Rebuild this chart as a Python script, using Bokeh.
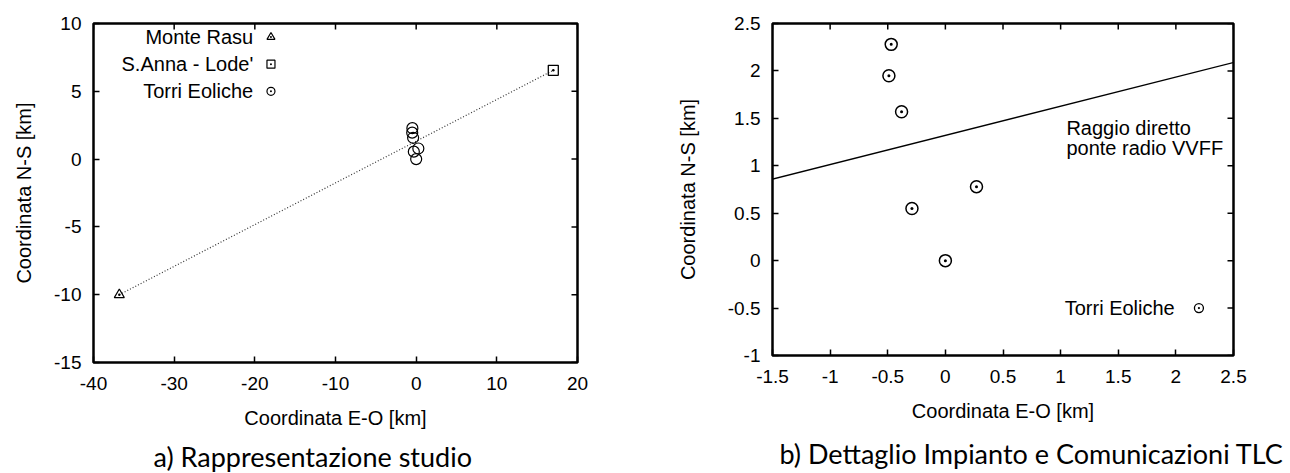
from bokeh.plotting import figure
from bokeh.models import Range1d, FixedTicker, Label, Title
from bokeh.layouts import row
from bokeh.embed import file_html
from bokeh.resources import INLINE
from bokeh.core.properties import value

# ---------------- data ----------------
monte_rasu_x = [-36.8]
monte_rasu_y = [-10.0]
santa_anna_x = [17.0]
santa_anna_y = [6.55]
torri_x = [-0.47, -0.49, -0.38, 0.27, -0.29, 0.0]
torri_y = [2.28, 1.95, 1.57, 0.78, 0.55, 0.0]

legend_labels_a = ["Monte Rasu", "S.Anna - Lode'", "Torri Eoliche"]
legend_labels_b = ["Torri Eoliche"]
annotation_b = ["Raggio diretto", "ponte radio VVFF"]

x_ticks_a = [-40, -30, -20, -10, 0, 10, 20]
x_tick_labels_a = ["-40", "-30", "-20", "-10", "0", "10", "20"]
y_ticks_a = [-15, -10, -5, 0, 5, 10]
y_tick_labels_a = ["-15", "-10", "-5", "0", "5", "10"]
x_ticks_b = [-1.5, -1, -0.5, 0, 0.5, 1, 1.5, 2, 2.5]
x_tick_labels_b = ["-1.5", "-1", "-0.5", "0", "0.5", "1", "1.5", "2", "2.5"]
y_ticks_b = [-1, -0.5, 0, 0.5, 1, 1.5, 2, 2.5]
y_tick_labels_b = ["-1", "-0.5", "0", "0.5", "1", "1.5", "2", "2.5"]

x_title = "Coordinata E-O [km]"
y_title = "Coordinata N-S [km]"
caption_a = "a) Rappresentazione studio"
caption_b = "b) Dettaglio Impianto e Comunicazioni TLC"

link_x = [monte_rasu_x[0], santa_anna_x[0]]
link_y = [monte_rasu_y[0], santa_anna_y[0]]

FONT = "Liberation Sans"
CAP_FONT = "Lato"
TICK_LEN = 6


def style_axes(p, xr, yr, fw, fh, xt, yt, xlab, ylab, ylab_standoff=16):
    p.xaxis.ticker = FixedTicker(ticks=xt)
    p.yaxis.ticker = FixedTicker(ticks=yt)
    p.xaxis.major_label_overrides = {t: s for t, s in zip(xt, xlab)}
    p.yaxis.major_label_overrides = {t: s for t, s in zip(yt, ylab)}
    for ax in (p.xaxis[0], p.yaxis[0]):
        ax.axis_line_color = None
        ax.major_tick_in = TICK_LEN
        ax.major_tick_out = 0
        ax.major_tick_line_width = 1.5
        ax.major_tick_line_color = "black"
        ax.minor_tick_line_color = None
        ax.major_label_text_font = FONT
        ax.major_label_text_font_size = "19px"
        ax.major_label_text_color = "black"
        ax.axis_label_text_font = FONT
        ax.axis_label_text_font_size = "20px"
        ax.axis_label_text_font_style = "normal"
        ax.axis_label_text_color = "black"
    p.xaxis.axis_label = x_title
    p.yaxis.axis_label = y_title
    p.xaxis.major_label_standoff = 14
    p.xaxis.axis_label_standoff = 14
    p.yaxis.major_label_standoff = 12
    p.yaxis.axis_label_standoff = ylab_standoff
    # mirrored inward ticks on top and right edges
    dy = TICK_LEN * (yr[1] - yr[0]) / fh
    dx = TICK_LEN * (xr[1] - xr[0]) / fw
    p.segment(x0=xt, x1=xt, y0=[yr[1]] * len(xt), y1=[yr[1] - dy] * len(xt),
              line_color="black", line_width=1.5)
    p.segment(x0=[xr[1]] * len(yt), x1=[xr[1] - dx] * len(yt), y0=yt, y1=yt,
              line_color="black", line_width=1.5)
    p.grid.visible = False
    p.outline_line_color = "black"
    p.outline_line_width = 2.5
    p.background_fill_color = "white"
    p.border_fill_color = "white"


# ---------------- plot a ----------------
xr_a, yr_a = (-40, 20), (-15, 10)
fw_a, fh_a = 484, 339
p1 = figure(frame_width=fw_a, frame_height=fh_a, x_range=Range1d(*xr_a), y_range=Range1d(*yr_a),
            output_backend="svg", toolbar_location=None,
            min_border_left=93, min_border_right=63, min_border_top=19, min_border_bottom=113)
style_axes(p1, xr_a, yr_a, fw_a, fh_a, x_ticks_a, y_ticks_a, x_tick_labels_a, y_tick_labels_a,
           ylab_standoff=16)

p1.line(link_x, link_y, line_color="#333333", line_width=1.2, line_dash="1 2")
p1.scatter(monte_rasu_x, monte_rasu_y, marker="triangle_dot", size=10, fill_color=None,
           line_color="black", line_width=1.2)
p1.scatter(santa_anna_x, santa_anna_y, marker="square_dot", size=10, fill_color=None,
           line_color="black", line_width=1.3)
p1.scatter(torri_x, torri_y, marker="circle", size=11, fill_color=None,
           line_color="black", line_width=1.2)

leg_y_a = [9.0, 7.0, 5.0]
p1.text(x=[-20.2] * 3, y=leg_y_a, text=legend_labels_a, text_align="right",
        text_baseline="middle", text_font=value(FONT), text_font_size="20px", text_color="black")
for mk, yy in zip(["triangle_dot", "square_dot", "circle_dot"], leg_y_a):
    p1.scatter([-18.0], [yy], marker=mk, size=8, fill_color=None, line_color="black", line_width=1.2)

t1 = Title(text=caption_a, align="left", offset=60, text_font=CAP_FONT, text_font_size="27px",
           text_font_style="normal", text_color="black", standoff=12)
p1.add_layout(t1, "below")

# ---------------- plot b ----------------
xr_b, yr_b = (-1.5, 2.5), (-1, 2.5)
fw_b, fh_b = 461, 332
p2 = figure(frame_width=fw_b, frame_height=fh_b, x_range=Range1d(*xr_b), y_range=Range1d(*yr_b),
            output_backend="svg", toolbar_location=None,
            min_border_left=132, min_border_right=57, min_border_top=23, min_border_bottom=116)
style_axes(p2, xr_b, yr_b, fw_b, fh_b, x_ticks_b, y_ticks_b, x_tick_labels_b, y_tick_labels_b,
           ylab_standoff=26)

p2.line(link_x, link_y, line_color="black", line_width=1.3)
p2.scatter(torri_x, torri_y, marker="circle_dot", size=12, fill_color=None,
           line_color="black", line_width=1.5)

p2.add_layout(Label(x=1.05, y=1.40, text=annotation_b[0], text_align="left", text_baseline="middle",
                    text_font=FONT, text_font_size="20px", text_color="black"))
p2.add_layout(Label(x=1.05, y=1.19, text=annotation_b[1], text_align="left", text_baseline="middle",
                    text_font=FONT, text_font_size="20px", text_color="black"))

p2.text(x=[1.99], y=[-0.5], text=legend_labels_b, text_align="right", text_baseline="middle",
        text_font=value(FONT), text_font_size="20px", text_color="black")
p2.scatter([2.2], [-0.5], marker="circle_dot", size=9, fill_color=None, line_color="black", line_width=1.3)

t2 = Title(text=caption_b, align="left", offset=7, text_font=CAP_FONT, text_font_size="27px",
           text_font_style="normal", text_color="black", standoff=21)
p2.add_layout(t2, "below")

layout = row(p1, p2)
open("out.html", "w").write(file_html(layout, INLINE))
